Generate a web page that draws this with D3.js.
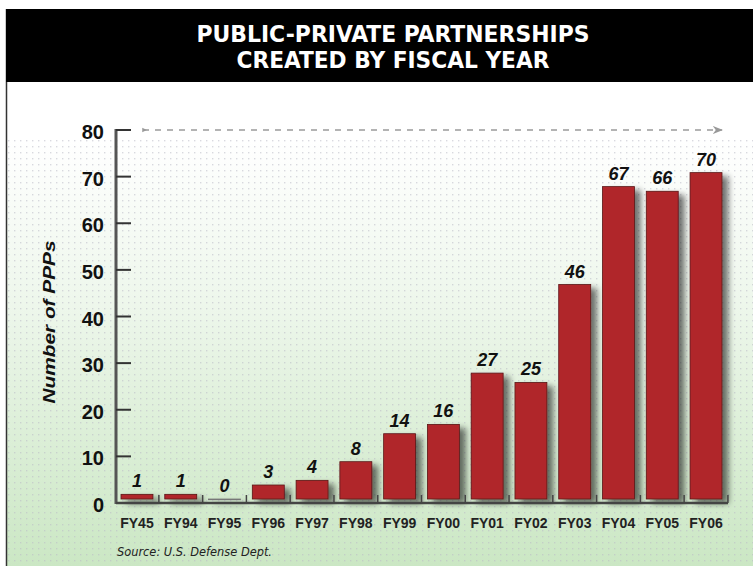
<!DOCTYPE html>
<html>
<head>
<meta charset="utf-8">
<script src="https://cdn.jsdelivr.net/npm/d3@7"></script>
<style>
  html, body { margin: 0; padding: 0; background: #fff; }
  svg { display: block; }
</style>
</head>
<body>
<svg id="chart" width="753" height="566"></svg>
<script>
// ---- data ----
const categories = ["FY45","FY94","FY95","FY96","FY97","FY98","FY99","FY00","FY01","FY02","FY03","FY04","FY05","FY06"];
const values = [1, 1, 0, 3, 4, 8, 14, 16, 27, 25, 46, 67, 66, 70];
const yTicks = [0, 10, 20, 30, 40, 50, 60, 70, 80];
const titleLines = ["PUBLIC-PRIVATE PARTNERSHIPS", "CREATED BY FISCAL YEAR"];
const yAxisLabel = "Number of PPPs";
const sourceText = "Source: U.S. Defense Dept.";

const svg = d3.select("#chart");
const W = 753, H = 566;
const defs = svg.append("defs");

// background gradient
const grad = defs.append("linearGradient").attr("id", "bg").attr("x1", 0).attr("y1", 0).attr("x2", 0).attr("y2", 1);
grad.append("stop").attr("offset", "0%").attr("stop-color", "#ffffff");
grad.append("stop").attr("offset", "12%").attr("stop-color", "#ffffff");
grad.append("stop").attr("offset", "45%").attr("stop-color", "#eef7ec");
grad.append("stop").attr("offset", "100%").attr("stop-color", "#cbe7c4");

const pat = defs.append("pattern").attr("id", "dots").attr("width", 6).attr("height", 6).attr("patternUnits", "userSpaceOnUse");
pat.append("rect").attr("x", 2).attr("y", 2).attr("width", 1.4).attr("height", 1.4).attr("fill", "#b9b9c4").attr("opacity", 0.55);

const shadow = defs.append("filter").attr("id", "shadow").attr("x", "-30%").attr("y", "-10%").attr("width", "170%").attr("height", "130%");
shadow.append("feGaussianBlur").attr("in", "SourceAlpha").attr("stdDeviation", 3).attr("result", "blur");
shadow.append("feOffset").attr("in", "blur").attr("dx", 6).attr("dy", 4).attr("result", "off");
shadow.append("feComponentTransfer").attr("in", "off").attr("result", "offa")
  .append("feFuncA").attr("type", "linear").attr("slope", 0.55);
const merge = shadow.append("feMerge");
merge.append("feMergeNode").attr("in", "offa");
merge.append("feMergeNode").attr("in", "SourceGraphic");

// background
svg.append("rect").attr("x", 0).attr("y", 0).attr("width", W).attr("height", H).attr("fill", "#fff");
svg.append("rect").attr("x", 7).attr("y", 82).attr("width", W - 7).attr("height", H - 82).attr("fill", "url(#bg)");
svg.append("rect").attr("x", 7).attr("y", 140).attr("width", W - 7).attr("height", H - 140).attr("fill", "url(#dots)");
svg.append("line").attr("x1", 6.5).attr("x2", 6.5).attr("y1", 9).attr("y2", H).attr("stroke", "#333").attr("stroke-width", 1.5);

// title
svg.append("rect").attr("x", 6).attr("y", 9).attr("width", W - 6).attr("height", 73).attr("fill", "#000");
const titleFont = "'Liberation Sans Narrow', 'DejaVu Sans Condensed', 'Roboto Condensed', Arial, sans-serif";
const titleWidths = [393, 313];
titleLines.forEach((t, i) => {
  svg.append("text")
    .attr("x", 393).attr("y", 42 + i * 26)
    .attr("text-anchor", "middle")
    .attr("fill", "#fff")
    .attr("font-family", titleFont)
    .attr("font-weight", "bold")
    .attr("font-size", 23)
    .attr("textLength", titleWidths[i])
    .attr("lengthAdjust", "spacingAndGlyphs")
    .text(t);
});

// scales
const x = d3.scaleBand().domain(categories).range([121, 722]).paddingInner(0.27).paddingOuter(0);
const y = d3.scaleLinear().domain([0, 80]).range([503, 130]);
const lift = 4; // bars sit just above the axis line

const axisX0 = 116, axisX1 = 728;

// dashed arrow at top
defs.append("marker").attr("id", "arrowR").attr("viewBox", "0 0 10 10").attr("refX", 9).attr("refY", 5)
  .attr("markerWidth", 8).attr("markerHeight", 8).attr("orient", "auto")
  .append("path").attr("d", "M0,1 L10,5 L0,9 L3,5 Z").attr("fill", "#999");
defs.append("marker").attr("id", "arrowL").attr("viewBox", "0 0 10 10").attr("refX", 1).attr("refY", 5)
  .attr("markerWidth", 6).attr("markerHeight", 6).attr("orient", "auto")
  .append("path").attr("d", "M0,2 L6,5 L0,8 Z").attr("fill", "#999");
svg.append("line")
  .attr("x1", 143).attr("x2", 722).attr("y1", y(80)).attr("y2", y(80))
  .attr("stroke", "#9a9a9a").attr("stroke-width", 1.3).attr("stroke-dasharray", "6,6")
  .attr("marker-start", "url(#arrowL)")
  .attr("marker-end", "url(#arrowR)");

// bars
const barG = svg.append("g").attr("filter", "url(#shadow)");
barG.selectAll("rect").data(values).join("rect")
  .attr("x", (d, i) => x(categories[i]))
  .attr("width", x.bandwidth())
  .attr("y", d => y(d) - lift)
  .attr("height", d => Math.max(y(0) - y(d), 0.8))
  .attr("fill", d => d === 0 ? "#9a9a9a" : "#b0282c")
  .attr("stroke", d => d === 0 ? "#777" : "#5a1416")
  .attr("stroke-width", 0.8);

// value labels
svg.append("g").selectAll("text").data(values).join("text")
  .attr("x", (d, i) => x(categories[i]) + x.bandwidth() / 2)
  .attr("y", d => y(d) - lift - 7)
  .attr("text-anchor", "middle")
  .attr("font-family", "'Liberation Sans', Arial, sans-serif")
  .attr("font-weight", "bold")
  .attr("font-style", "italic")
  .attr("font-size", 18)
  .attr("fill", "#111")
  .text(d => d);

// y axis
const yAxisG = svg.append("g");
yAxisG.append("line").attr("x1", axisX0).attr("x2", axisX0).attr("y1", y(80) - 1).attr("y2", y(0) + 1)
  .attr("stroke", "#555").attr("stroke-width", 3);
yAxisG.selectAll("line.tick").data(yTicks).join("line").attr("class", "tick")
  .attr("x1", axisX0).attr("x2", axisX0 + 15)
  .attr("y1", d => y(d)).attr("y2", d => y(d))
  .attr("stroke", "#333").attr("stroke-width", 2);
yAxisG.selectAll("text").data(yTicks).join("text")
  .attr("x", 104).attr("y", d => y(d) + 9)
  .attr("text-anchor", "end")
  .attr("font-family", "'Liberation Sans', Arial, sans-serif")
  .attr("font-weight", "bold")
  .attr("font-size", 20)
  .attr("fill", "#111")
  .text(d => d);

// x axis
const step = x.step();
const gap = step - x.bandwidth();
const xAxisG = svg.append("g");
xAxisG.append("line").attr("x1", axisX0).attr("x2", axisX1).attr("y1", y(0)).attr("y2", y(0))
  .attr("stroke", "#444").attr("stroke-width", 2.5);
xAxisG.selectAll("line.sep").data(categories).join("line").attr("class", "sep")
  .attr("x1", d => x(d) + x.bandwidth() + gap / 2)
  .attr("x2", d => x(d) + x.bandwidth() + gap / 2)
  .attr("y1", y(0) - 8).attr("y2", y(0))
  .attr("stroke", "#444").attr("stroke-width", 1.5);
xAxisG.selectAll("text").data(categories).join("text")
  .attr("x", d => x(d) + x.bandwidth() / 2)
  .attr("y", 528)
  .attr("text-anchor", "middle")
  .attr("font-family", "'Liberation Sans', Arial, sans-serif")
  .attr("font-weight", "bold")
  .attr("font-size", 14)
  .attr("fill", "#222")
  .text(d => d);

// y axis title
svg.append("text")
  .attr("transform", "translate(55,322) rotate(-90)")
  .attr("text-anchor", "middle")
  .attr("font-family", "'Liberation Sans', Arial, sans-serif")
  .attr("font-weight", "bold")
  .attr("font-style", "italic")
  .attr("font-size", 17)
  .attr("fill", "#111")
  .attr("textLength", 163)
  .attr("lengthAdjust", "spacingAndGlyphs")
  .text(yAxisLabel);

// source
svg.append("text")
  .attr("x", 117).attr("y", 556)
  .attr("font-family", titleFont)
  .attr("font-style", "italic")
  .attr("font-size", 13)
  .attr("fill", "#222")
  .attr("textLength", 155)
  .attr("lengthAdjust", "spacingAndGlyphs")
  .text(sourceText);
</script>
</body>
</html>
